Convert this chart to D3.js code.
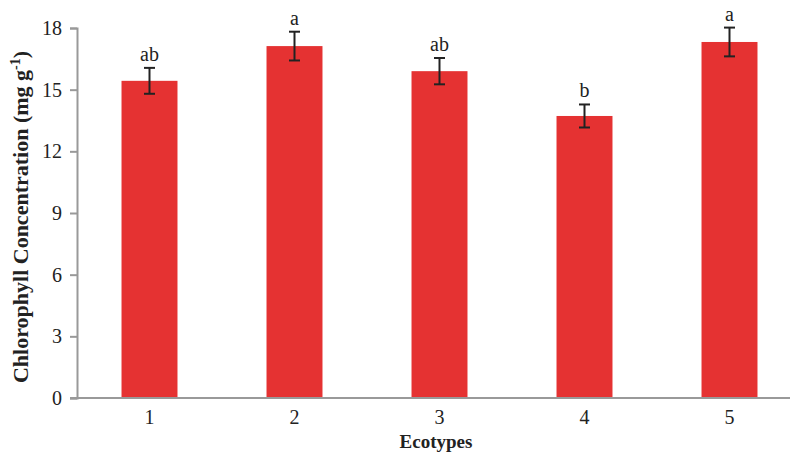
<!DOCTYPE html>
<html>
<head>
<meta charset="utf-8">
<script src="https://cdn.jsdelivr.net/npm/d3@7/dist/d3.min.js"></script>
<style>
  body { margin: 0; background: #fff; }
  text { font-family: "Liberation Serif", "Times New Roman", serif; fill: #222; }
</style>
</head>
<body>
<div id="chart"></div>
<script>
// data
const ecotypes = ["1", "2", "3", "4", "5"];
const means = [15.43, 17.12, 15.9, 13.72, 17.32];
const errors = [0.63, 0.7, 0.64, 0.56, 0.7];
const letters = ["ab", "a", "ab", "b", "a"];
const yTicks = [0, 3, 6, 9, 12, 15, 18];

const W = 794, H = 454;
const margin = { top: 28, right: -8, bottom: 56, left: 77 },
  width = W - margin.left - margin.right,
  height = H - margin.top - margin.bottom;

const svg = d3.select("#chart")
  .append("svg")
  .attr("width", W)
  .attr("height", H)
  .append("g")
  .attr("transform", "translate(" + margin.left + "," + margin.top + ")");

const x = d3.scaleBand().domain(ecotypes).range([0, width]).padding(0);
const y = d3.scaleLinear().domain([0, 18]).range([height, 0]);
const barW = x.bandwidth() * 0.386;

// y axis
const yAxis = svg.append("g")
  .call(d3.axisLeft(y).tickValues(yTicks).tickSize(7).tickPadding(8));
yAxis.select(".domain").attr("stroke", "#999").attr("stroke-width", 2);
yAxis.selectAll(".tick line").attr("stroke", "#999").attr("stroke-width", 2);
yAxis.selectAll("text").style("font-size", "20px").attr("fill", "#222");

// bars
svg.selectAll("rect.bar")
  .data(means)
  .enter()
  .append("rect")
  .attr("class", "bar")
  .attr("x", (d, i) => x(ecotypes[i]) + x.bandwidth() / 2 - barW / 2)
  .attr("y", d => y(d))
  .attr("width", barW)
  .attr("height", d => y(0) - y(d))
  .attr("fill", "#e53232");

// x axis (line only, no ticks)
const xAxis = svg.append("g")
  .attr("transform", "translate(0," + height + ")")
  .call(d3.axisBottom(x).tickSize(0).tickPadding(12));
xAxis.select(".domain").remove();
xAxis.append("line")
  .attr("x1", -7).attr("x2", 713)
  .attr("stroke", "#999").attr("stroke-width", 2);
xAxis.selectAll("text").style("font-size", "20px").attr("fill", "#222");

// error bars
const capW = 11;
const eb = svg.selectAll("g.err")
  .data(means)
  .enter()
  .append("g")
  .attr("class", "err")
  .attr("transform", (d, i) => "translate(" + (x(ecotypes[i]) + x.bandwidth() / 2) + ",0)");
eb.append("line")
  .attr("y1", (d, i) => y(d + errors[i]))
  .attr("y2", (d, i) => y(d - errors[i]))
  .attr("stroke", "#222").attr("stroke-width", 2);
eb.append("line")
  .attr("x1", -capW / 2).attr("x2", capW / 2)
  .attr("y1", (d, i) => y(d + errors[i]))
  .attr("y2", (d, i) => y(d + errors[i]))
  .attr("stroke", "#222").attr("stroke-width", 2);
eb.append("line")
  .attr("x1", -capW / 2).attr("x2", capW / 2)
  .attr("y1", (d, i) => y(d - errors[i]))
  .attr("y2", (d, i) => y(d - errors[i]))
  .attr("stroke", "#222").attr("stroke-width", 2);

// significance letters
eb.append("text")
  .attr("y", (d, i) => y(d + errors[i]) - 7)
  .attr("text-anchor", "middle")
  .style("font-size", "20px")
  .text((d, i) => letters[i]);

// axis titles
svg.append("text")
  .attr("x", 436 - margin.left)
  .attr("y", 448 - margin.top)
  .attr("text-anchor", "middle")
  .style("font-size", "19px")
  .style("font-weight", "bold")
  .text("Ecotypes");

const yt = svg.append("text")
  .attr("transform", "translate(" + (28 - margin.left) + "," + (217 - margin.top) + ") rotate(-90)")
  .attr("text-anchor", "middle")
  .style("font-size", "22px")
  .style("font-weight", "bold");
yt.append("tspan").text("Chlorophyll Concentration (mg g");
yt.append("tspan").attr("dy", -8).style("font-size", "14px").text("-1");
yt.append("tspan").attr("dy", 8).text(")");
</script>
</body>
</html>
